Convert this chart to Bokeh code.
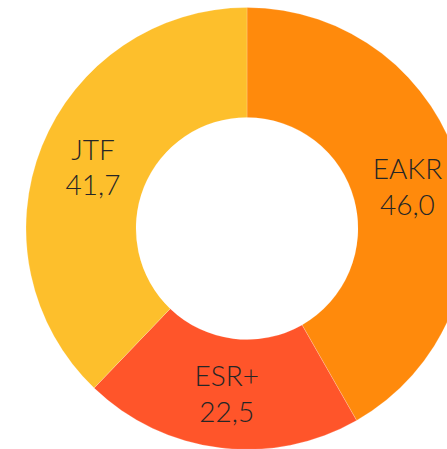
import math
from bokeh.plotting import figure
from bokeh.models import Range1d, ColumnDataSource
from bokeh.core.properties import value
from bokeh.embed import file_html
from bokeh.resources import INLINE

categories = ["EAKR", "ESR+", "JTF"]
values = [46.0, 22.5, 41.7]
value_labels = ["46,0", "22,5", "41,7"]
colors = ["#FF8A0C", "#FF552A", "#FDBF2C"]

W, H = 447, 449
cx, cy = 246.5, 221.0
R_out, R_in = 221.0, 111.0

total = sum(values)
starts, ends, lx, ly, texts = [], [], [], [], []
acc = 0.0
for c, v, vl in zip(categories, values, value_labels):
    a0 = math.pi / 2 - 2 * math.pi * acc / total
    a1 = math.pi / 2 - 2 * math.pi * (acc + v) / total
    starts.append(a0)
    ends.append(a1)
    mid = (a0 + a1) / 2
    rm = (R_out + R_in) / 2
    lx.append(cx + rm * math.cos(mid))
    ly.append(cy + rm * math.sin(mid))
    texts.append(c + "\n" + vl)
    acc += v

src = ColumnDataSource(dict(start=starts, end=ends, color=colors,
                            lx=lx, ly=ly, text=texts))

p = figure(width=W, height=H, output_backend="svg", toolbar_location=None,
           x_range=Range1d(0, W), y_range=Range1d(0, H), min_border=0)
p.axis.visible = False
p.grid.visible = False
p.outline_line_color = None
p.background_fill_color = "white"
p.border_fill_color = "white"

p.annular_wedge(x=cx, y=cy, inner_radius=R_in, outer_radius=R_out,
                start_angle="end", end_angle="start", direction="anticlock",
                fill_color="color", line_color="white", line_width=0.5,
                line_alpha=0.4, source=src)

p.text(x="lx", y="ly", text="text", source=src, text_align="center",
       text_baseline="middle", text_font=value("'Lato Light', Lato"),
       text_font_size="28px", text_color="#262626", text_line_height=1.05)

open("out.html", "w").write(file_html(p, INLINE))
